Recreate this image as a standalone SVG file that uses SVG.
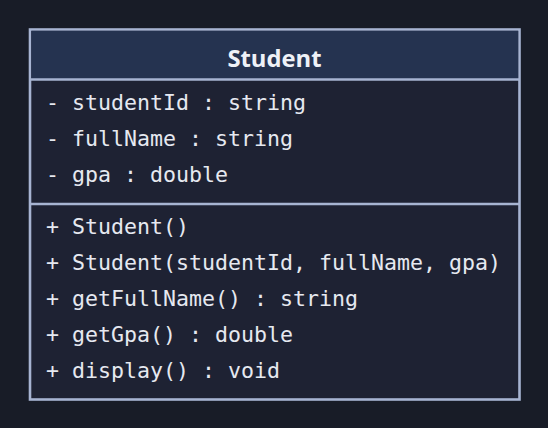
<svg xmlns="http://www.w3.org/2000/svg" width="548" height="428" viewBox="0 0 548 428">
<style>
.bg{fill:#181c27}
.box{fill:#1e2233;stroke:#a7b4d2;stroke-width:2.6}
.head{fill:#253350}
.div{stroke:#a7b4d2;stroke-width:2.6}
.title{font-family:"Open Sans","Noto Sans",sans-serif;font-weight:bold;font-size:23.8px;fill:#eef1f7;text-anchor:middle}
.m{font-family:"DejaVu Sans Mono","Liberation Mono",monospace;font-size:21.6px;fill:#e6e9f0}
</style>
<rect class="bg" x="0" y="0" width="548" height="428"/>
<g id="Student">
<rect class="box" x="30" y="29.5" width="489.5" height="370"/>
<rect class="head" x="31.3" y="30.8" width="486.9" height="48.7"/>
<line class="div" x1="30" y1="79.5" x2="519.5" y2="79.5"/>
<line class="div" x1="30" y1="204" x2="519.5" y2="204"/>
<text class="title" x="274.5" y="66.5">Student</text>
<text class="m" x="46" y="110">- studentId : string</text>
<text class="m" x="46" y="146">- fullName : string</text>
<text class="m" x="46" y="182">- gpa : double</text>
<text class="m" x="46" y="234">+ Student()</text>
<text class="m" x="46" y="270">+ Student(studentId, fullName, gpa)</text>
<text class="m" x="46" y="306">+ getFullName() : string</text>
<text class="m" x="46" y="342">+ getGpa() : double</text>
<text class="m" x="46" y="378">+ display() : void</text>
</g>
<g id="connectors"/>
</svg>
